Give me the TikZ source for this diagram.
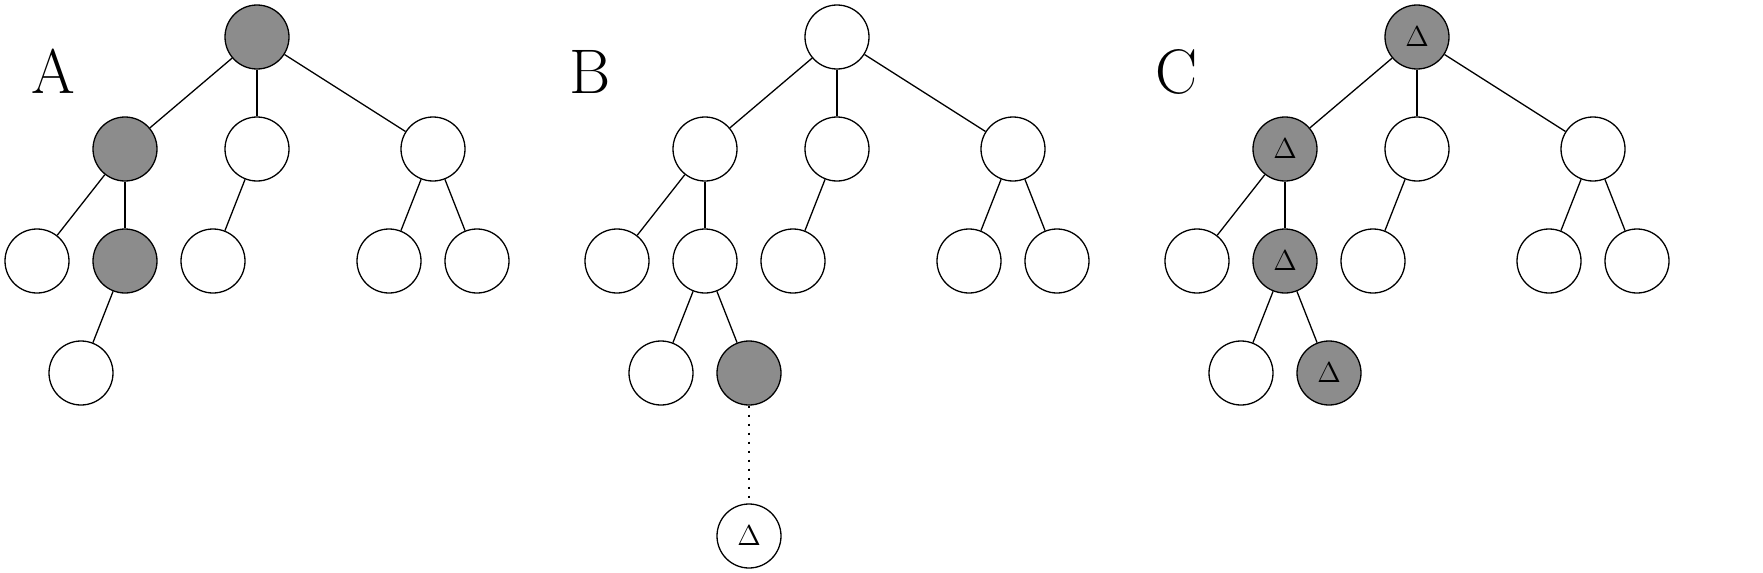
\documentclass[tikz,border=0pt]{standalone}
\definecolor{visited}{RGB}{140,140,140}
\newcommand{\dlt}{{\fontsize{14.5}{16}\selectfont$\Delta$}}
\newcommand{\panelname}[1]{{\fontsize{31.5}{36}\selectfont #1}}

\begin{document}
\begin{tikzpicture}[x=0.5pt, y=-0.5pt, line width=0.65pt,
    vertex/.style={draw, circle, fill=white, minimum size=32pt, inner sep=0pt},
    marked/.style={vertex, fill=visited}]
  \useasboundingbox (0, 0) rectangle (1763, 573);

  % A
  \node (labA) at (53, 71) {\panelname{A}};
  \node[marked] (a1) at (257, 37) {};
  \node[marked] (a2) at (125, 149) {};
  \node[vertex] (a3) at (257, 149) {};
  \node[vertex] (a4) at (433, 149) {};
  \node[vertex] (a5) at (37, 261) {};
  \node[marked] (a6) at (125, 261) {};
  \node[vertex] (a7) at (213, 261) {};
  \node[vertex] (a8) at (389, 261) {};
  \node[vertex] (a9) at (477, 261) {};
  \node[vertex] (a10) at (81, 373) {};
  \draw (a1) -- (a2);
  \draw (a1) -- (a3);
  \draw (a1) -- (a4);
  \draw (a2) -- (a5);
  \draw (a2) -- (a6);
  \draw (a3) -- (a7);
  \draw (a4) -- (a8);
  \draw (a4) -- (a9);
  \draw (a6) -- (a10);

  % B
  \begin{scope}[xshift=290pt]
    \node (labB) at (10, 72) {\panelname{B}};
    \node[vertex] (b1) at (257, 37) {};
    \node[vertex] (b2) at (125, 149) {};
    \node[vertex] (b3) at (257, 149) {};
    \node[vertex] (b4) at (433, 149) {};
    \node[vertex] (b5) at (37, 261) {};
    \node[vertex] (b6) at (125, 261) {};
    \node[vertex] (b7) at (213, 261) {};
    \node[vertex] (b8) at (389, 261) {};
    \node[vertex] (b9) at (477, 261) {};
    \node[vertex] (b10) at (81, 373) {};
    \node[marked] (b11) at (169, 373) {};
    \node[vertex] (b12) at (169, 536) {\dlt};
    \draw (b1) -- (b2);
    \draw (b1) -- (b3);
    \draw (b1) -- (b4);
    \draw (b2) -- (b5);
    \draw (b2) -- (b6);
    \draw (b3) -- (b7);
    \draw (b4) -- (b8);
    \draw (b4) -- (b9);
    \draw (b6) -- (b10);
    \draw (b6) -- (b11);
    \draw [dash pattern=on 1.2pt off 3.3pt] (b11) -- (b12);
  \end{scope}

  % C
  \begin{scope}[xshift=580pt]
    \node (labC) at (17, 72) {\panelname{C}};
    \node[marked] (c1) at (257, 37) {\dlt};
    \node[marked] (c2) at (125, 149) {\dlt};
    \node[vertex] (c3) at (257, 149) {};
    \node[vertex] (c4) at (433, 149) {};
    \node[vertex] (c5) at (37, 261) {};
    \node[marked] (c6) at (125, 261) {\dlt};
    \node[vertex] (c7) at (213, 261) {};
    \node[vertex] (c8) at (389, 261) {};
    \node[vertex] (c9) at (477, 261) {};
    \node[vertex] (c10) at (81, 373) {};
    \node[marked] (c11) at (169, 373) {\dlt};
    \draw (c1) -- (c2);
    \draw (c1) -- (c3);
    \draw (c1) -- (c4);
    \draw (c2) -- (c5);
    \draw (c2) -- (c6);
    \draw (c3) -- (c7);
    \draw (c4) -- (c8);
    \draw (c4) -- (c9);
    \draw (c6) -- (c10);
    \draw (c6) -- (c11);
  \end{scope}
\end{tikzpicture}
\end{document}
